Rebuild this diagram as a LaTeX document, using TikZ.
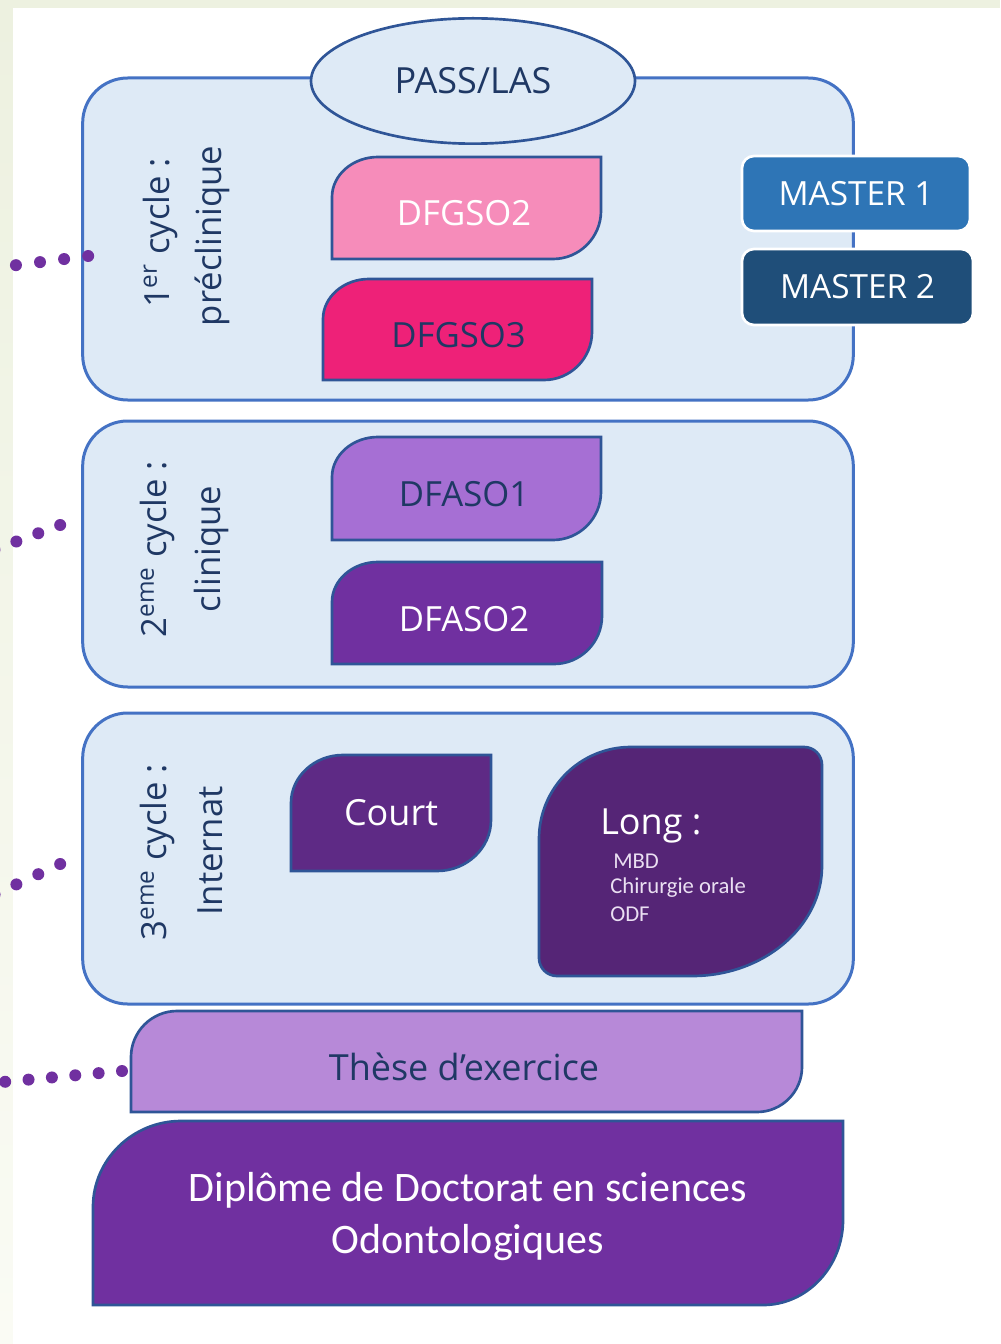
\documentclass[tikz,border=0pt]{standalone}
\usepackage{fontspec}
\setmainfont{Open Sans}
\newfontfamily\carl{Carlito}
\usetikzlibrary{shapes.geometric,calc}
\definecolor{bggreen}{HTML}{EDF1E0}
\definecolor{bgleft}{HTML}{FAFBF4}
\definecolor{lightblue}{HTML}{DEEAF6}
\definecolor{cycleborder}{HTML}{4472C4}
\definecolor{leafborder}{HTML}{2F5597}
\definecolor{navy}{HTML}{1F3864}
\definecolor{pinklight}{HTML}{F68CBA}
\definecolor{pinkdark}{HTML}{EE2178}
\definecolor{lavender}{HTML}{A66FD4}
\definecolor{purplemain}{HTML}{7030A0}
\definecolor{purplecourt}{HTML}{5E2A85}
\definecolor{purplelong}{HTML}{552576}
\definecolor{lilac}{HTML}{B789D8}
\definecolor{masterone}{HTML}{2E75B6}
\definecolor{mastertwo}{HTML}{1F4E79}
\definecolor{smalltext}{HTML}{EADFF2}
\newcommand\leafpath[6]{%
  \draw[#2] (#1.south west) -- ($(#1.north west)+(0,#4)$)
    .. controls ($(#1.north west)+(0,0.45*#4)$) and ($(#1.north west)+(0.45*#3,0)$) .. ($(#1.north west)+(#3,0)$)
    -- (#1.north east) -- ($(#1.south east)+(0,-#6)$)
    .. controls ($(#1.south east)+(0,-0.45*#6)$) and ($(#1.south east)+(-0.45*#5,0)$) .. ($(#1.south east)+(-#5,0)$)
    -- cycle;}
\begin{document}
\begin{tikzpicture}[x=0.75pt,y=-0.75pt,
  frame/.style={rectangle, inner sep=0pt, outer sep=0pt},
  cyclebox/.style={rectangle, rounded corners=33.75pt, draw=cycleborder, line width=2.25pt, fill=lightblue, inner sep=0pt},
  leaf/.style={draw=leafborder, line width=2pt},
  lbl/.style={font=\fontsize{26}{30}\selectfont, inner sep=0pt},
  vlbl/.style={font=\fontsize{26}{30}\selectfont, text=navy, rotate=90, inner sep=0pt},
  master/.style={rectangle, rounded corners=9pt, draw=white, line width=2pt, text=white, font=\fontsize{25}{28}\selectfont, inner sep=0pt},
  smalllbl/.style={font=\carl\fontsize{17}{20}\selectfont, text=smalltext, inner sep=0pt, anchor=base west},
  dotline/.style={draw=purplemain, line width=9pt, line cap=round}]
\useasboundingbox (0,0) rectangle (1000,1344);
\clip (0,0) rectangle (1000,1344);
% background
\fill[bggreen] (0,0) rectangle (1000,1344);
\shade[top color=bggreen, bottom color=bgleft] (0,8) rectangle (13,1344);
\fill[white] (13,8) rectangle (1000,1344);
% cycle boxes
\node[cyclebox, minimum width=578pt, minimum height=241.5pt] (c1) at (468,239) {};
\node[cyclebox, minimum width=578pt, minimum height=199.5pt] (c2) at (468,554) {};
\node[cyclebox, minimum width=578pt, minimum height=218.25pt] (c3) at (468,858.5) {};
% PASS/LAS
\node[ellipse, draw=leafborder, fill=lightblue, line width=2pt, minimum width=243pt, minimum height=94pt, inner sep=0pt, text=navy, font=\fontsize{27}{30}\selectfont] (pass) at (473,81) {PASS/LAS};
% masters
\node[master, fill=masterone, minimum width=171pt, minimum height=56.25pt] (m1) at (856,193.5) {MASTER 1};
\node[master, fill=mastertwo, minimum width=173.25pt, minimum height=57pt] (m2) at (857.5,287) {MASTER 2};
% vertical labels
\node[vlbl] (v1a) at (160,233) {1\textsuperscript{er} cycle :};
\node[vlbl] (v1b) at (212,236) {préclinique};
\node[vlbl] (v2a) at (157,549) {2\textsuperscript{eme} cycle :};
\node[vlbl] (v2b) at (211,549) {clinique};
\node[vlbl] (v3a) at (157,852) {3\textsuperscript{eme} cycle :};
\node[vlbl] (v3b) at (210,851) {Internat};
% leaf boxes
\node[frame, minimum width=201.75pt, minimum height=76.5pt] (dfgso2) at (466.5,208) {};
\leafpath{dfgso2}{leaf, fill=pinklight}{46}{40}{48}{48}
\node[lbl, text=white] (dfgso2-t) at (464,213.5) {DFGSO2};
\node[frame, minimum width=201.75pt, minimum height=75.75pt] (dfgso3) at (457.5,329.5) {};
\leafpath{dfgso3}{leaf, fill=pinkdark}{46}{40}{48}{48}
\node[lbl, text=navy] (dfgso3-t) at (458.5,335) {DFGSO3};
\node[frame, minimum width=201.75pt, minimum height=77.25pt] (dfaso1) at (466.5,488.5) {};
\leafpath{dfaso1}{leaf, fill=lavender}{46}{40}{48}{48}
\node[lbl, text=navy] (dfaso1-t) at (464,494) {DFASO1};
\node[frame, minimum width=202.5pt, minimum height=76.5pt] (dfaso2) at (467,613) {};
\leafpath{dfaso2}{leaf, fill=purplemain}{46}{40}{48}{48}
\node[lbl, text=white] (dfaso2-t) at (464,619) {DFASO2};
\node[frame, minimum width=150pt, minimum height=87pt] (court) at (391,813) {};
\leafpath{court}{leaf, fill=purplecourt}{52}{48}{54}{51}
\node[lbl, text=white, font=\fontsize{27}{30}\selectfont] (court-t) at (391,812.5) {Court};
% long
\node[frame, minimum width=212.25pt, minimum height=171.75pt] (long) at (680.5,861.5) {};
\draw[leaf, fill=purplelong] ($(long.south west)+(0,-18)$) -- ($(long.north west)+(0,92)$)
  .. controls ($(long.north west)+(0,41)$) and ($(long.north west)+(41,0)$) .. ($(long.north west)+(92,0)$)
  -- ($(long.north east)+(-18,0)$)
  .. controls ($(long.north east)+(-8,0)$) and ($(long.north east)+(0,8)$) .. ($(long.north east)+(0,18)$)
  -- ($(long.south east)+(0,-110)$)
  .. controls ($(long.south east)+(0,-49.5)$) and ($(long.south east)+(-58.5,0)$) .. ($(long.south east)+(-130,0)$)
  -- ($(long.south west)+(18,0)$)
  .. controls ($(long.south west)+(8,0)$) and ($(long.south west)+(0,-8)$) .. ($(long.south west)+(0,-18)$)
  -- cycle;
\node[lbl, text=white, font=\fontsize{27}{30}\selectfont, anchor=base west] (long-t) at (600,834) {Long :};
\node[smalllbl] (mbd) at (613,868) {MBD};
\node[smalllbl] (chir) at (610,893) {Chirurgie orale};
\node[smalllbl] (odf) at (610,921) {ODF};
% these
\node[frame, minimum width=503.25pt, minimum height=75.75pt] (these) at (466.5,1061.5) {};
\leafpath{these}{leaf, fill=lilac}{46}{46}{45}{45}
\node[lbl, text=navy, font=\fontsize{27}{30}\selectfont] (these-t) at (464,1067) {Thèse d’exercice};
% diplome
\node[frame, minimum width=562.5pt, minimum height=138pt] (diplome) at (468,1213) {};
\leafpath{diplome}{leaf, fill=purplemain}{88}{86}{80}{85}
\node[lbl, text=white, font=\carl\fontsize{31.5}{32}\selectfont] (dip1) at (468,1190) {Diplôme de Doctorat en sciences};
\node[lbl, text=white, font=\carl\fontsize{31.5}{32}\selectfont] (dip2) at (468,1243) {Odontologiques};
% dotted connectors
\coordinate (e1) at (-30,271);
\coordinate (e2) at (-30,559);
\coordinate (e3) at (-30,906);
\coordinate (e4) at (-30,1085);
\draw[dotline, dash pattern=on 0pt off 18.2pt] ($(c1.west)+(7,17)$) -- (e1);
\draw[dotline, dash pattern=on 0pt off 17.55pt] ($(c2.west)+(-21,-29)$) -- (e2);
\draw[dotline, dash pattern=on 0pt off 18.1pt] ($(c3.west)+(-21,5.5)$) -- (e3);
\draw[dotline, dash pattern=on 0pt off 17.6pt] ($(these.west)+(-9,9.5)$) -- (e4);
\end{tikzpicture}
\end{document}
